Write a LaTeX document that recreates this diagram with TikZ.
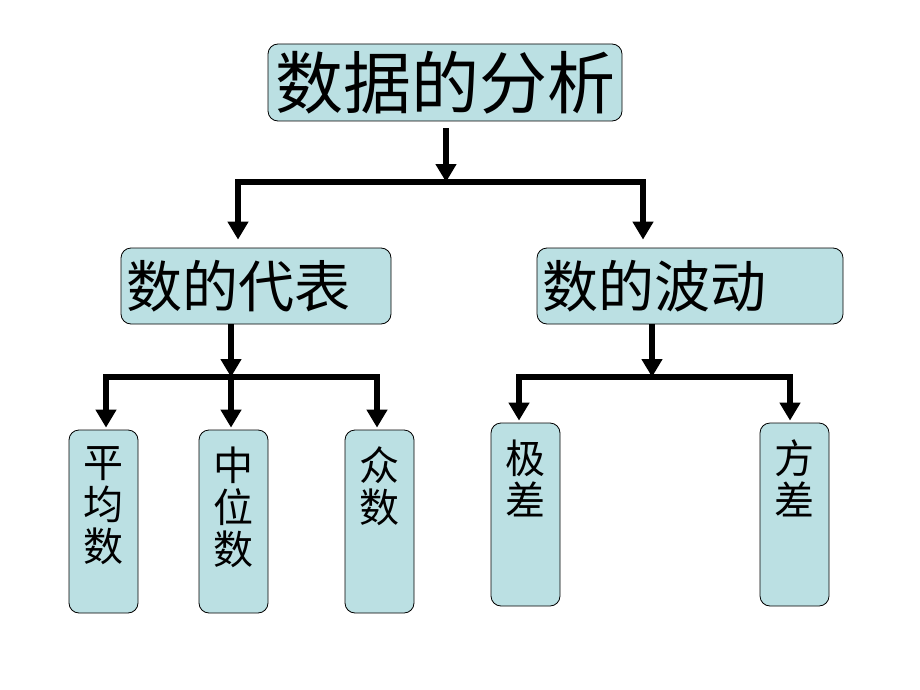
\documentclass[tikz,border=0pt]{standalone}
\usepackage{fontspec}
\setmainfont{Noto Sans CJK SC}
\usepackage{tikz}
\usetikzlibrary{arrows.meta}
\usetikzlibrary{calc}
\definecolor{boxfill}{RGB}{187,224,227}

\begin{document}
\begin{tikzpicture}[x=1pt,y=-1pt,
	box/.style={draw=black, fill=boxfill, line width=0.8pt, rounded corners=10pt, inner sep=0pt},
	topbox/.style={box, minimum width=354pt, minimum height=77pt, font=\fontsize{68}{72}\selectfont},
	midbox/.style={box, minimum height=76pt, align=left, inner xsep=5pt, font=\fontsize{56}{60}\selectfont},
	leafbox/.style={box, minimum width=69pt, minimum height=183pt},
	conn/.style={line width=6pt, line join=miter, -{Triangle[length=18pt,width=20pt]}}]
	
	\useasboundingbox (0,0) rectangle (920,690);
	
	\newcommand{\leaftext}[1]{\parbox[c][183pt][t]{69pt}{\centering\fontsize{40}{42}\selectfont\vspace*{17pt}#1}}
	
	\node[topbox] (fenxi) at (445,82.5) {\raisebox{3pt}{数据的分析}};
	\node[midbox, text width=260pt] (daibiao) at (256,286) {数的代表};
	\node[midbox, text width=296pt] (bodong) at (690,286) {数的波动};
	
	\node[leafbox] (pingjun) at (103.5,521.5) {\leaftext{平\\均\\数}};
	\node[leafbox] (zhongwei) at (233.5,521.5) {\leaftext{中\\位\\数}};
	\node[leafbox] (zhongshu) at (379.5,521.5) {\leaftext{众\\数}};
	\node[leafbox] (jicha) at (525.5,514.5) {\leaftext{极\\差}};
	\node[leafbox] (fangcha) at (794.5,514.5) {\leaftext{方\\差}};
	
	\coordinate (t0) at (446,182);
	\coordinate (tl) at (238,182);
	\coordinate (tr) at (643,182);
	\coordinate (l0) at (231,377);
	\coordinate (ll) at (106,377);
	\coordinate (lr) at (377,377);
	\coordinate (r0) at (652,377);
	\coordinate (rl) at (519,377);
	\coordinate (rr) at (790,377);
	
	\draw[conn] ([yshift=-7pt]fenxi.south -| t0) -- (t0);
	\draw[conn, shorten >=8pt] (t0) -- (tl) -- (tl |- daibiao.north);
	\draw[conn, shorten >=8pt] (t0) -- (tr) -- (tr |- bodong.north);
	
	\draw[conn] (daibiao.south -| l0) -- (l0);
	\draw[conn, shorten >=2pt] (l0) -- (ll) -- (ll |- pingjun.north);
	\draw[conn, shorten >=2pt] (l0) -- (l0 |- zhongwei.north);
	\draw[conn, shorten >=2pt] (l0) -- (lr) -- (lr |- zhongshu.north);
	
	\draw[conn] (bodong.south -| r0) -- (r0);
	\draw[conn, shorten >=2pt] (r0) -- (rl) -- (rl |- jicha.north);
	\draw[conn, shorten >=2pt] (r0) -- (rr) -- (rr |- fangcha.north);
	
\end{tikzpicture}
\end{document}
